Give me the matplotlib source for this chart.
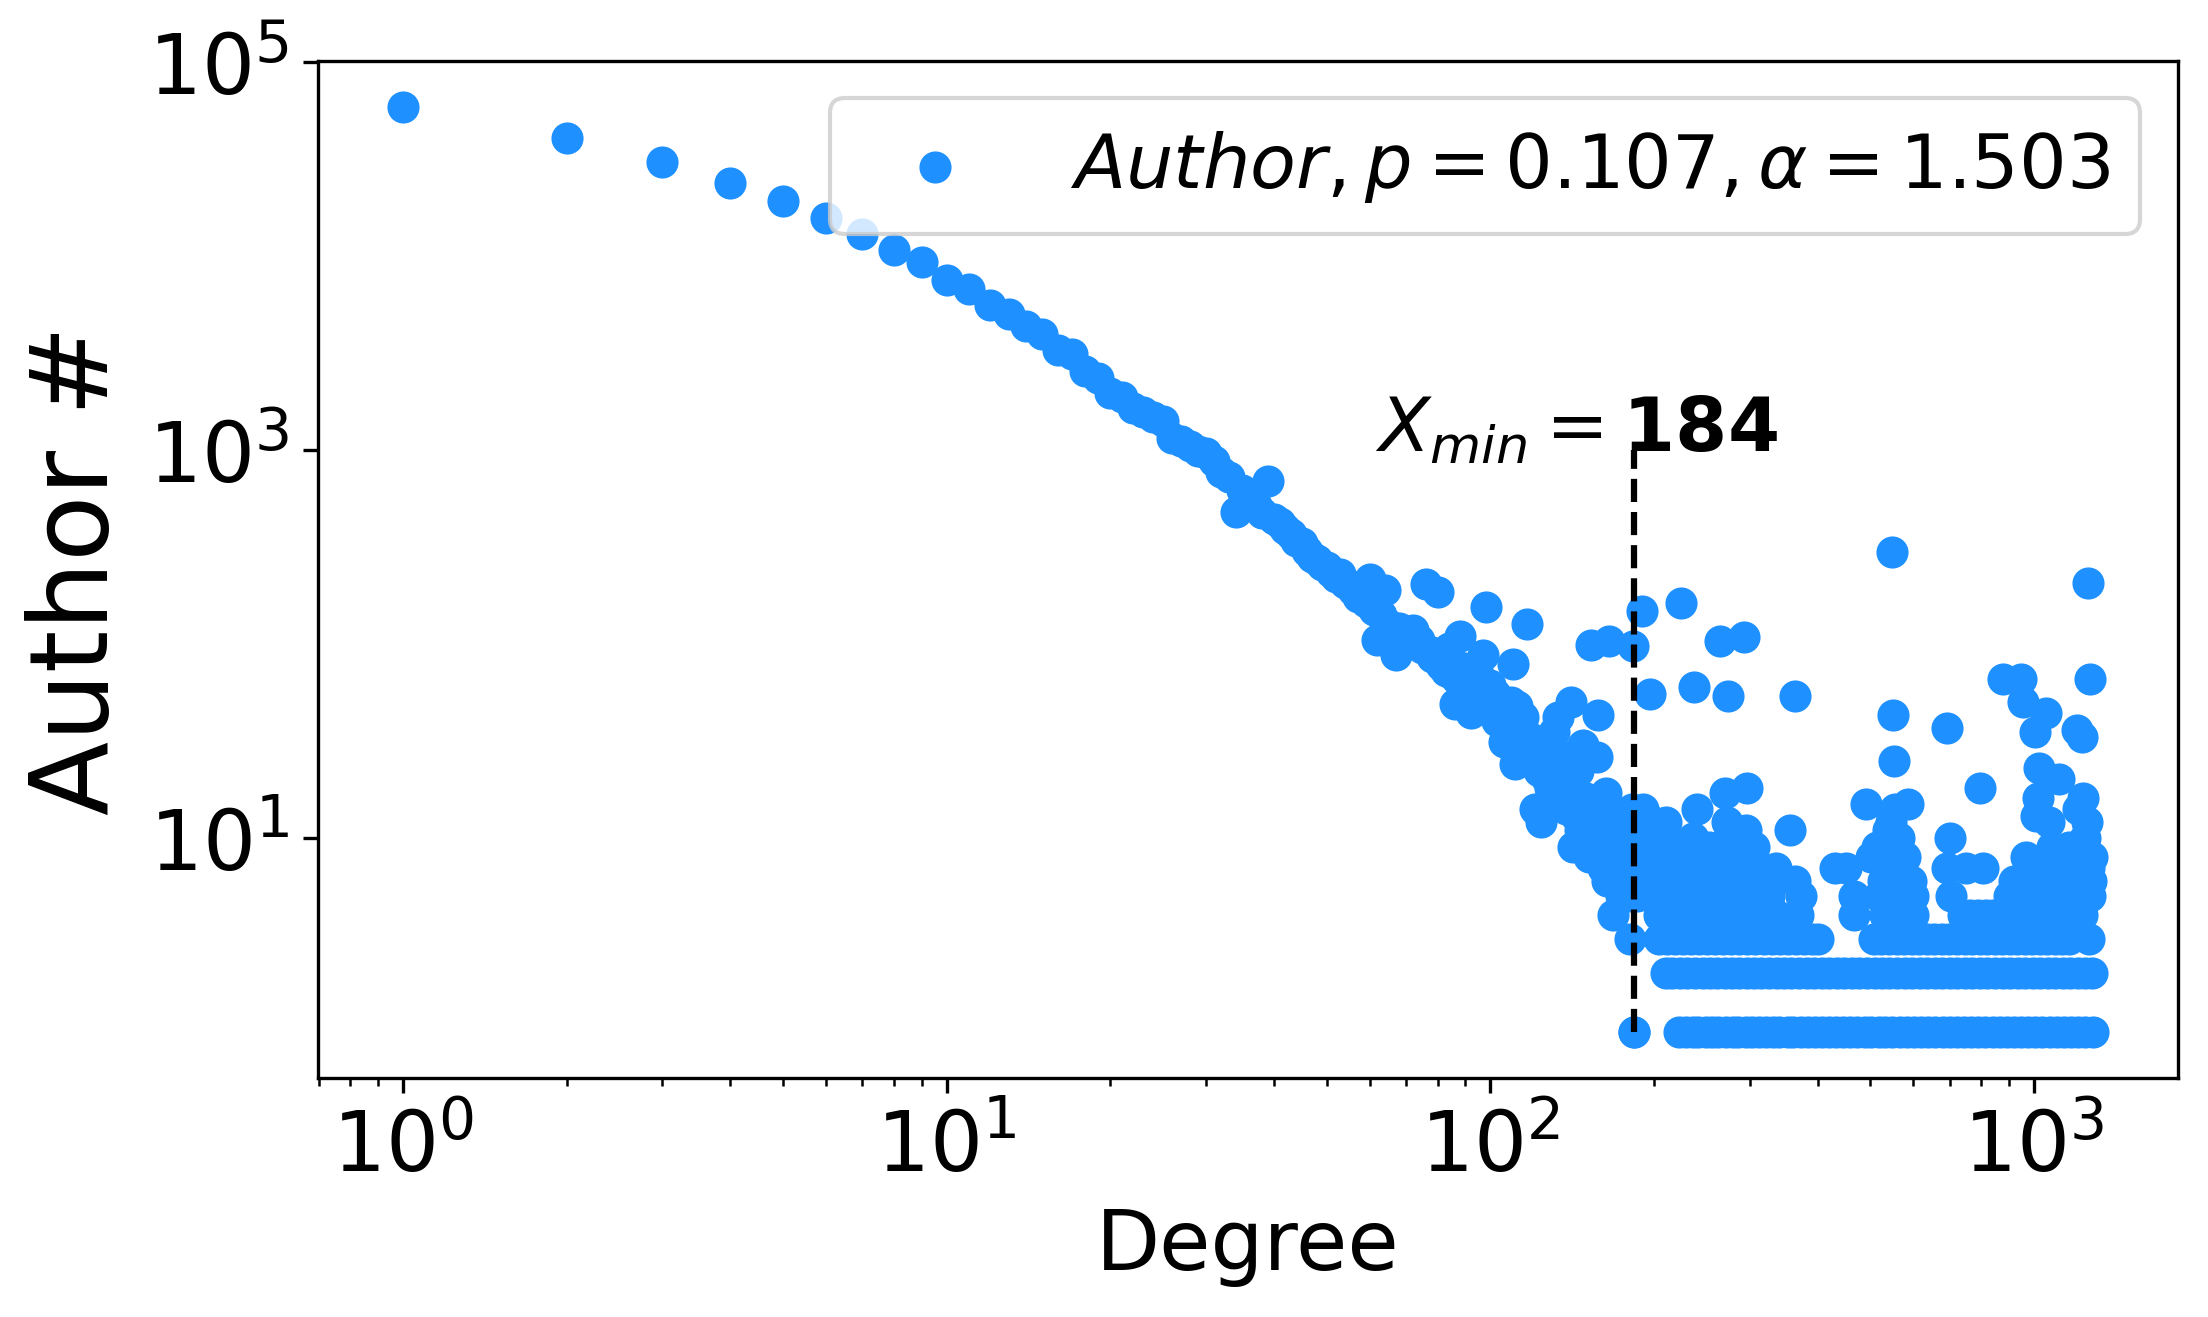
import matplotlib.pyplot as plt
from matplotlib.ticker import NullLocator

# Degree distribution of authors
head_degree = [1, 2, 3, 4, 5, 6, 7, 8, 9, 10, 11, 12, 13]
head_count = [58500, 40500, 30500, 23800, 19200, 15700, 13000, 10700, 9300, 7500, 6760, 5600, 4990]

# every integer degree from 14 up to x_min
body_degree = list(range(14, 185))
body_count = [
    4350, 3950, 3250, 3100, 2550, 2350, 1950, 1880, 1650, 1560,  # 14-23
    1470, 1400, 1150, 1110, 1040, 990, 960, 880, 770, 720,        # 24-33
    480, 620, 560, 520, 470, 690, 440, 420, 390, 370,             # 34-43
    340, 330, 300, 280, 270, 255, 250, 235, 220, 230,             # 44-53
    205, 200, 190, 175, 180, 165, 215, 150, 105, 140,             # 54-63
    190, 125, 98, 88, 120, 118, 112, 108, 118, 100,               # 64-73
    105, 95, 203, 92, 85, 90, 184, 78, 85, 72,                    # 74-83
    95, 70, 49, 66, 110, 62, 75, 58, 44, 64,                      # 84-93
    52, 70, 47, 88, 154, 50, 61, 45, 55, 40,                      # 94-103
    48, 38, 31, 44, 35, 50, 79, 24, 48, 36,                       # 104-113
    30, 42, 27, 126, 33, 25, 28, 14, 30, 22,                      # 114-123
    12, 31, 26, 20, 24, 18, 23, 35, 16, 42,                       # 124-133
    19, 21, 15, 26, 14, 18, 20, 50, 9, 17,                        # 134-143
    13, 22, 11, 15, 30, 12, 16, 10, 8, 99,                        # 144-153
    13, 11, 14, 26, 43, 9, 12, 7, 10, 17,                         # 154-163
    6, 103, 9, 11, 4, 8, 13, 7, 6, 10,                            # 164-173
    5, 9, 7, 12, 6, 8, 5, 3, 14, 97,                              # 174-183
    1,                                                            # 184
]

# tail: degrees having exactly 1, 2, 3, 4 authors
deg_count1 = [222, 229, 236, 241, 249, 256, 262, 271, 279, 286, 295, 303, 312, 322, 331,
              340, 352, 361, 373, 384, 396, 407, 420, 432, 446, 458, 473, 488, 502, 518,
              533, 549, 566, 584, 601, 620, 638, 658, 679, 700, 721, 743, 766, 790, 813,
              839, 865, 891, 918, 946, 975, 1005, 1036, 1068, 1100, 1134, 1168, 1204, 1241, 1286]
deg_count2 = [210, 216, 223, 230, 238, 246, 253, 261, 270, 278, 287, 296, 306, 315, 326,
              336, 347, 358, 370, 382, 394, 407, 420, 434, 448, 462, 477, 493, 509, 525,
              542, 560, 578, 597, 616, 636, 657, 678, 700, 723, 746, 770, 795, 821, 848,
              875, 904, 933, 963, 994, 1027, 1060, 1094, 1130, 1166, 1204, 1243, 1280]
deg_count3 = [204, 211, 219, 226, 234, 242, 250, 259, 268, 277, 287, 297, 307, 318, 329,
              341, 353, 365, 378, 391, 400, 508, 524, 541, 559, 577, 596, 615, 635, 656,
              677, 699, 722, 745, 769, 794, 820, 847, 874, 903, 932, 962, 993, 1025, 1058,
              1092, 1127, 1158, 1262]
deg_count4 = [204, 211, 218, 226, 233, 241, 250, 258, 267, 276, 286, 296, 306, 316, 327,
              335, 368, 467, 533, 548, 566, 585, 600, 740, 764, 789, 815, 842, 869, 897,
              926, 956, 988, 1020, 1053, 1087, 1122, 1159, 1196, 1226]

# tail: the remaining scattered degrees
tail_degree = [185, 186, 187, 188, 189, 190, 191, 192, 193, 194, 196, 197, 198, 199, 200,
               202, 204, 205, 206, 208, 209, 210, 212, 214, 216, 218, 219, 220, 222, 224,
               225, 226, 228, 229, 231, 232, 236, 237, 239, 240, 244, 245, 248, 250, 252,
               255, 256, 258, 261, 262, 265, 266, 268, 270, 272, 274, 276, 277, 280, 282,
               284, 285, 288, 290, 292, 293, 295, 297, 298, 300, 302, 303, 305, 310, 312,
               315, 318, 325, 335, 355, 363, 364, 372,
               430, 451, 466, 490, 501, 515, 518,
               528, 533, 538, 540, 545, 548, 550, 552, 555, 556, 560, 562, 565, 570, 575,
               580, 586, 593, 600,
               692, 692, 700, 703, 749, 795, 807, 875,
               900, 920, 930, 946, 953, 960, 965, 975, 990, 1005, 1010, 1015, 1020, 1030,
               1040, 1050, 1064, 1070, 1080, 1095, 1112, 1120, 1140, 1150, 1160, 1175, 1190,
               1195, 1200, 1205, 1210, 1215, 1220, 1226, 1232, 1240, 1245, 1250, 1255, 1258,
               1262, 1266, 1270, 1275, 1280]
tail_count = [12, 5, 8, 6, 10, 147, 14, 7, 13, 9, 6, 55, 8, 10, 5,
              7, 11, 9, 6, 8, 6, 12, 5, 7, 9, 6, 8, 5, 5, 163,
              6, 8, 7, 6, 5, 6, 10, 60, 5, 14, 5, 6, 7, 8, 9,
              6, 5, 5, 7, 9, 103, 7, 5, 17, 12, 54, 11, 5, 6, 7,
              8, 6, 5, 5, 6, 108, 11, 18, 8, 6, 8, 5, 9, 6, 5,
              7, 5, 5, 7, 11, 54, 6, 5,
              7, 7, 5, 15, 8, 9, 5,
              6, 5, 11, 7, 12, 296, 43, 25, 14, 9, 7, 6, 10, 5, 6,
              8, 15, 6, 5,
              37, 7, 10, 5, 7, 18, 7, 66,
              5, 6, 5, 66, 50, 5, 8, 6, 5, 35, 13, 16, 23, 7,
              5, 44, 12, 6, 9, 5, 20, 7, 5, 6, 9, 5, 9,
              7, 36, 14, 6, 5, 8, 33, 16, 10, 6, 12, 5, 205,
              7, 66, 5, 6, 8]

x_min = 184

degree = (head_degree + body_degree + deg_count1 + deg_count2 + deg_count3 + deg_count4
          + tail_degree + [x_min])
count = (head_count + body_count + [1] * len(deg_count1) + [2] * len(deg_count2)
         + [3] * len(deg_count3) + [4] * len(deg_count4) + tail_count + [1])

plt.figure(figsize=(7.36, 4.393), dpi=300)
plt.subplots_adjust(left=0.1442, right=0.9864, top=0.9533, bottom=0.1813)

plt.scatter(degree, count, s=45, color='dodgerblue',
            label=r'$Author, p = 0.107, \alpha = 1.503$')
plt.xscale('log')
plt.yscale('log')

# x_min marker
plt.vlines(x_min, 1, 1000, colors='black', linestyles='dashed', linewidth=1.5)
plt.text(x_min / 3, 1000, r'$X_{min} = \mathbf{184}$', fontsize=18)

ax = plt.gca()
ax.set_yticks([1e1, 1e3, 1e5])
ax.yaxis.set_minor_locator(NullLocator())
ax.set_xticks([1, 10, 100, 1000])
plt.tick_params(labelsize=20)

plt.xlabel('Degree', fontsize=20)
plt.ylabel('Author #', fontsize=26)
plt.legend(loc='upper right', fontsize=18)

plt.savefig('out.png', dpi=300)
